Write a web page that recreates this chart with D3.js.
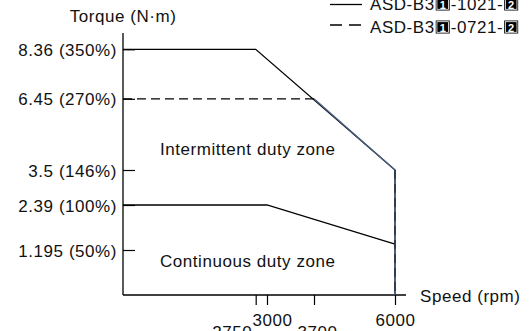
<!DOCTYPE html>
<html><head><meta charset="utf-8">
<script src="https://cdn.jsdelivr.net/npm/d3@7"></script>
<style>
html,body{margin:0;padding:0;background:#fff;}
text{font-family:"Liberation Sans",Arial,sans-serif;font-size:17px;fill:#111;letter-spacing:0.55px;}
</style></head>
<body>
<svg id="c" width="529" height="331"></svg>
<script>
// ---- data ----
const speedTicks = [2750, 3000, 3700, 6000];
const speedTickLabels = ["2750", "3000", "3700", "6000"];
const torqueTicks = [1.195, 2.39, 3.5, 6.45, 8.36];
const torqueTickLabels = ["1.195 (50%)", "2.39 (100%)", "3.5 (146%)", "6.45 (270%)", "8.36 (350%)"];
const speed1021 = [0, 2750, 6000, 6000];
const torque1021 = [8.36, 8.36, 3.5, 0];
const speed0721 = [0, 3700, 6000, 6000];
const torque0721 = [6.45, 6.45, 3.5, 0];
const speedCont = [0, 3000, 6000];
const torqueCont = [2.39, 2.39, 1.35];
const legendModels = [["ASD-B3", "1", "-1021-", "2"], ["ASD-B3", "1", "-0721-", "2"]];
const zoneLabels = ["Intermittent duty zone", "Continuous duty zone"];
const xTitle = "Speed (rpm)", yTitle = "Torque (N\u00b7m)";

// ---- scales (schematic, piecewise) ----
const svg = d3.select("#c");
const x = d3.scaleLinear().domain([0, 2750, 3000, 3700, 6000]).range([123, 255.7, 267, 314, 395]);
const y = d3.scaleLinear().domain([0, 1.195, 2.39, 3.5, 6.45, 8.36]).range([295, 250, 205, 170, 98.8, 49.3]);

// axes lines
svg.append("line").attr("x1", x(0)).attr("x2", 406).attr("y1", y(0)).attr("y2", y(0)).attr("stroke", "#000").attr("stroke-width", 1.3);
svg.append("line").attr("x1", x(0)).attr("x2", x(0)).attr("y1", 33).attr("y2", y(0)).attr("stroke", "#000").attr("stroke-width", 1.3);

// y axis ticks + labels
const yAxis = d3.axisLeft(y).tickValues(torqueTicks).tickFormat((d, i) => torqueTickLabels[i]).tickSizeInner(-12).tickSizeOuter(0).tickPadding(18);
const gy = svg.append("g").attr("transform", `translate(${x(0)},0)`).call(yAxis);
gy.select(".domain").remove();
gy.selectAll(".tick line").attr("stroke", "#000").attr("stroke-width", 1.2);
gy.selectAll(".tick text").attr("fill", null).attr("dx", 0).attr("x", -6).attr("dy", "0.36em");
gy.attr("font-size", null).attr("font-family", null);

// x axis ticks + labels
const xAxis = d3.axisBottom(x).tickValues(speedTicks).tickFormat((d, i) => speedTickLabels[i]).tickSizeInner(10).tickSizeOuter(0);
const gx = svg.append("g").attr("transform", `translate(0,${y(0)})`).call(xAxis);
gx.select(".domain").remove();
gx.attr("font-size", null).attr("font-family", null);
gx.selectAll(".tick line").attr("stroke", "#000").attr("stroke-width", 1.2);
const xOff = {2750: [-24, 43], 3000: [5, 31], 3700: [3, 43], 6000: [0, 31]};
gx.selectAll(".tick text").attr("fill", null).attr("dy", null).attr("x", d => xOff[d][0]).attr("y", d => xOff[d][1]);

// lines
const line = d3.line().x(d => x(d[0])).y(d => y(d[1]));
const p1021 = speed1021.map((s, i) => [s, torque1021[i]]);
const p0721 = speed0721.map((s, i) => [s, torque0721[i]]);
const pCont = speedCont.map((s, i) => [s, torqueCont[i]]);

svg.append("path").attr("d", line(pCont)).attr("fill", "none").attr("stroke", "#000").attr("stroke-width", 1.3);
svg.append("path").attr("d", line(p1021)).attr("fill", "none").attr("stroke", "#000").attr("stroke-width", 1.3);
// overlapping portion of both curves (drawn blue-grey)
svg.append("path").attr("d", line(p0721.slice(1))).attr("fill", "none").attr("stroke", "#4a6283").attr("stroke-width", 1.5);
svg.append("path").attr("d", line(p0721.slice(0, 2))).attr("fill", "none").attr("stroke", "#000").attr("stroke-width", 1.3).attr("stroke-dasharray", "9,5");
svg.append("path").attr("d", line(p0721.slice(2))).attr("fill", "none").attr("stroke", "#1a1a1a").attr("stroke-width", 1).attr("stroke-dasharray", "9,5");

// titles
svg.append("text").attr("x", x(0)).attr("y", 22).attr("text-anchor", "middle").text(yTitle);
svg.append("text").attr("x", 420).attr("y", 302).text(xTitle);
svg.append("text").attr("x", 160).attr("y", 155).text(zoneLabels[0]);
svg.append("text").attr("x", 160).attr("y", 267).text(zoneLabels[1]);

// legend
const legY = [4.5, 25], legTextY = [10, 33];
legendModels.forEach((parts, i) => {
  const ln = svg.append("line").attr("x1", 330).attr("x2", 362).attr("y1", legY[i]).attr("y2", legY[i]).attr("stroke", "#000").attr("stroke-width", 1.3);
  if (i === 1) ln.attr("stroke-dasharray", "12,7");
  let cx = 370;
  parts.forEach((p, j) => {
    if (j % 2 === 1) {
      const w = 14;
      svg.append("rect").attr("x", cx).attr("y", legTextY[i] - 12.5).attr("width", w).attr("height", 13).attr("fill", "#000");
      svg.append("rect").attr("x", cx + 1.2).attr("y", legTextY[i] - 11.3).attr("width", w - 2.4).attr("height", 10.6).attr("fill", "none").attr("stroke", "#fff").attr("stroke-width", 0.8);
      svg.append("text").attr("x", cx + w / 2).attr("y", legTextY[i] - 1.5).attr("text-anchor", "middle").style("font-size", "11px").style("font-weight", "bold").style("letter-spacing", "0").style("fill", "#fff").text(p);
      cx += w + 1;
    } else {
      const t = svg.append("text").attr("x", cx).attr("y", legTextY[i]).text(p);
      cx += t.node().getComputedTextLength() + 1;
    }
  });
});
</script>
</body></html>
